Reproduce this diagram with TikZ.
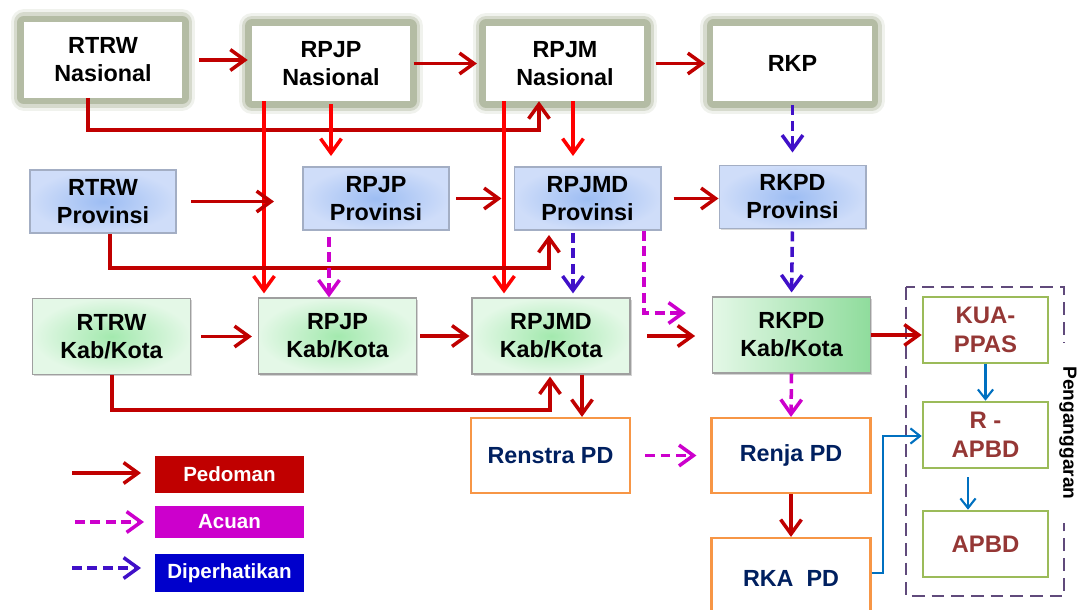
\documentclass[tikz,border=0pt]{standalone}
\usepackage{fontspec}
\setmainfont{Liberation Sans}
\usepackage{tikz}
\usetikzlibrary {arrows.meta, shadows}
\definecolor{pedc}{HTML}{C00000}
\definecolor{terangc}{HTML}{FF0000}
\definecolor{acuc}{HTML}{CC00CC}
\definecolor{dipc}{HTML}{4010C8}
\definecolor{anggc}{HTML}{0070C0}
\definecolor{glowc}{HTML}{B4BCA4}
\definecolor{provin}{HTML}{9DBDF3}
\definecolor{provout}{HTML}{CFDDF9}
\definecolor{provbd}{HTML}{A3AEC4}
\definecolor{kabin}{HTML}{A3E9AE}
\definecolor{kabout}{HTML}{E4F8E7}
\definecolor{kabkanan}{HTML}{8FDC9C}
\definecolor{orgc}{HTML}{F79646}
\definecolor{navyc}{HTML}{002060}
\definecolor{hijauc}{HTML}{9BBB59}
\definecolor{coklatc}{HTML}{953735}
\definecolor{unguc}{HTML}{604A7B}
\newcommand{\kotakfont}{\fontsize{16.6}{20}\selectfont\bfseries}
\newcommand{\anggfont}{\fontsize{17}{21}\selectfont\bfseries}
\newcommand{\legfont}{\fontsize{14.6}{17}\selectfont\bfseries}

\begin{document}
\begin{tikzpicture}[x=0.025cm, y=-0.025cm,
		nas/.style={fill=white, minimum width=3.95cm, minimum height=1.875cm, align=center, font=\kotakfont, line join=round,
			preaction={draw=glowc!20, line width=0.65cm}, preaction={draw=glowc!55, line width=0.5cm},
			preaction={draw=glowc, line width=0.34cm}},
		prov/.style={shading=radial, inner color=provin, outer color=provout, draw=provbd, line width=1.4pt,
			minimum width=3.65cm, minimum height=1.575cm, align=center, font=\kotakfont,
			drop shadow={shadow xshift=1pt, shadow yshift=-1pt, opacity=0.3}},
		kab/.style={shading=radial, inner color=kabin, outer color=kabout, draw=gray!75, line width=0.8pt,
			minimum width=3.95cm, minimum height=1.9cm, align=center, font=\kotakfont,
			drop shadow={shadow xshift=1.2pt, shadow yshift=-1.2pt, opacity=0.35}},
		pd/.style={draw=orgc, line width=1.5pt, fill=white, minimum width=3.975cm, minimum height=1.875cm, font=\kotakfont, text=navyc},
		ang/.style={draw=hijauc, line width=1.8pt, fill=white, minimum width=3.125cm, minimum height=1.65cm, align=center, font=\anggfont, text=coklatc},
		leg/.style={minimum width=3.725cm, text=white, font=\legfont},
		pedoman/.style={draw=pedc, line width=2.5pt, -{Straight Barb[length=3.6mm, width=5.2mm]}},
		terang/.style={pedoman, draw=terangc},
		acuan/.style={draw=acuc, line width=2.5pt, dash pattern=on 7pt off 4pt, -{Straight Barb[length=3.6mm, width=5.2mm]}},
		diper/.style={acuan, draw=dipc},
		angg/.style={draw=anggc, line width=1.5pt, -{Straight Barb[length=2.4mm, width=3.8mm]}}]
		\useasboundingbox (0,0) rectangle (1079,610);
		\clip (0,0) rectangle (1079,610);

		% kotak penganggaran
		\draw[draw=unguc, line width=1.8pt, dash pattern=on 9pt off 5pt] (906,287) rectangle (1064,596);
		\node[rotate=-90, fill=white, inner xsep=0.6cm, inner ysep=1pt, font=\fontsize{13.6}{16}\selectfont\bfseries] (anggaran) at (1068,433) {Penganggaran};

		% nasional
		\node[nas] (rtrwnas) at (103,60) {RTRW\\Nasional};
		\node[nas] (rpjpnas) at (331,63.5) {RPJP\\Nasional};
		\node[nas] (rpjmnas) at (565,63.5) {RPJM\\Nasional};
		\node[nas] (rkp) at (792.5,63.5) {RKP};

		% provinsi
		\node[prov] (rtrwprov) at (103,201.5) {RTRW\\Provinsi};
		\node[prov] (rpjpprov) at (376,198.5) {RPJP\\Provinsi};
		\node[prov] (rpjmdprov) at (587.5,198.5) {RPJMD\\Provinsi};
		\node[prov] (rkpdprov) at (792.5,197) {RKPD\\Provinsi};

		% kab/kota
		\node[kab] (rtrwkab) at (111.5,336.5) {RTRW\\Kab/Kota};
		\node[kab] (rpjpkab) at (337.5,336) {RPJP\\Kab/Kota};
		\node[kab] (rpjmdkab) at (551,336) {RPJMD\\Kab/Kota};
		\node[kab, shading=axis, left color=kabout, right color=kabkanan, shading angle=90] (rkpdkab) at (791.5,335) {RKPD\\Kab/Kota};

		% perangkat daerah
		\node[pd] (renstra) at (550.5,455.5) {Renstra PD};
		\node[pd] (renja) at (791,455.5) {Renja PD};
		\node[pd, minimum height=2cm] (rkapd) at (791,578) {RKA\ \ PD};

		\node[ang] (kua) at (985.5,330) {KUA-\\PPAS};
		\node[ang] (rapbd) at (985.5,435) {R -\\APBD};
		\node[ang] (apbd) at (985.5,544) {APBD};

		% baris nasional
		\draw[pedoman, shorten <=0.42cm, shorten >=0.1cm] (rtrwnas.east) -- (rtrwnas.east -| rpjpnas.west);
		\draw[pedoman, shorten <=0.08cm, shorten >=0.22cm] (rpjpnas) -- (rpjmnas);
		\draw[pedoman, shorten <=0.28cm, shorten >=0.2cm] (rpjmnas) -- (rkp);
		\draw[pedoman] (rtrwnas.south -| 88,0) |- (539,130) -- (rpjmnas.south -| 539,0);
		\draw[terang, shorten <=0.08cm, shorten >=0.25cm] (rpjpnas.south) -- (rpjpnas.south |- rpjpprov.north);
		\draw[terang, shorten >=0.1cm] (rpjpnas.south -| 264,0) -- (rpjpkab.north -| 264,0);
		\draw[terang, shorten >=0.1cm] (rpjmnas.south -| 504,0) -- (rpjmdkab.north -| 504,0);
		\draw[terang, shorten >=0.25cm] (rpjmnas.south -| 573,0) -- (rpjmdprov.north -| 573,0);
		\draw[diper, shorten <=0.1cm, shorten >=0.3cm] (rkp.south) -- (rkpdprov.north);

		% baris provinsi
		\draw[pedoman, shorten <=0.35cm, shorten >=0.7cm] (rtrwprov.east) -- (rtrwprov.east -| rpjpprov.west);
		\draw[pedoman, shorten <=0.15cm, shorten >=0.3cm] (rpjpprov.east) -- (rpjpprov.east -| rpjmdprov.west);
		\draw[pedoman, shorten <=0.3cm] (rpjmdprov.east) -- (rpjmdprov.east -| rkpdprov.west);
		\draw[pedoman, shorten >=0.1cm] (rtrwprov.south -| 110,0) |- (549,268) -- (rpjmdprov.south -| 549,0);
		\draw[acuan, shorten <=0.15cm] (rpjpprov.south -| 329,0) -- (rpjpkab.north -| 329,0);
		\draw[diper, shorten <=0.05cm, shorten >=0.1cm] (rpjmdprov.south -| 573,0) -- (rpjmdkab.north -| 573,0);
		\draw[acuan, shorten >=0.65cm] (rpjmdprov.south -| 644,0) |- (rkpdkab.west |- 0,313);
		\draw[diper, shorten <=0.05cm, shorten >=0.1cm] (rkpdprov.south) -- (rkpdkab.north);

		% baris kab/kota
		\draw[pedoman, shorten <=0.25cm, shorten >=0.15cm] (rtrwkab.east) -- (rtrwkab.east -| rpjpkab.west);
		\draw[pedoman, shorten <=0.08cm, shorten >=0.05cm] (rpjpkab.east) -- (rpjpkab.east -| rpjmdkab.west);
		\draw[pedoman, shorten <=0.42cm, shorten >=0.42cm] (rpjmdkab.east) -- (rpjmdkab.east -| rkpdkab.west);
		\draw[pedoman] (rkpdkab.east) -- (rkpdkab.east -| kua.west);
		\draw[pedoman, shorten >=0.05cm] (rtrwkab.south -| 112,0) |- (550,410) -- (rpjmdkab.south -| 550,0);
		\draw[pedoman] (rpjmdkab.south -| 582,0) -- (renstra.north -| 582,0);
		\draw[acuan] (rkpdkab.south) -- (renja.north);

		% perangkat daerah dan anggaran
		\draw[acuan, shorten <=0.35cm, shorten >=0.35cm] (renstra) -- (renja);
		\draw[pedoman] (renja.south) -- (rkapd.north);
		\draw[angg] (rkapd.east |- 0,573) -| (883,436) -- (rapbd.west |- 0,436);
		\draw[angg] (kua.south) -- (rapbd.north);
		\draw[angg, shorten <=0.2cm] (rapbd.south -| 968,0) -- (apbd.north -| 968,0);

		% legenda
		\node[leg, fill=pedc, minimum height=0.925cm] (lpedoman) at (229.5,474.5) {Pedoman};
		\node[leg, fill=acuc, minimum height=0.8cm] (lacuan) at (229.5,522) {Acuan};
		\node[leg, fill=blue!80!black, minimum height=0.95cm] (ldiper) at (229.5,573) {Diperhatikan};
		\coordinate (pa) at (72,473);
		\coordinate (pb) at (141,473);
		\coordinate (aa) at (75,522);
		\coordinate (ab) at (144,522);
		\coordinate (da) at (72,568);
		\coordinate (db) at (141,568);
		\draw[pedoman] (pa) -- (pb);
		\draw[acuan] (aa) -- (ab);
		\draw[diper] (da) -- (db);

	\end{tikzpicture}
\end{document}
